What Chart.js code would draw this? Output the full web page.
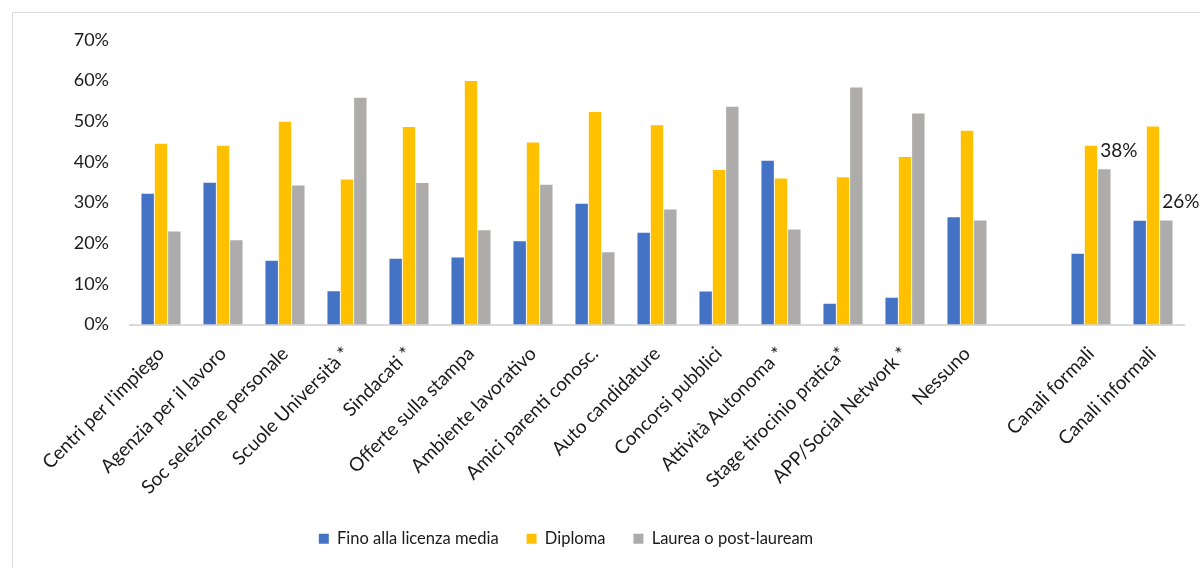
<!DOCTYPE html>
<html>
<head>
<meta charset="utf-8">
<script src="https://cdn.jsdelivr.net/npm/chart.js@4"></script>
<style>
  html, body { margin: 0; padding: 0; background: #fff; }
  #wrap { position: relative; width: 1200px; height: 568px; overflow: hidden; }
  #frame { position: absolute; left: 12px; top: 12px; width: 1200px; height: 568px;
           border-left: 1px solid #d9d9d9; border-top: 1px solid #d9d9d9; pointer-events: none; }
</style>
</head>
<body>
<div id="wrap">
  <canvas id="myChart" width="1200" height="568"></canvas>
  <div id="frame"></div>
</div>
<script>
const categories = [
  'Centri per l\'impiego', 'Agenzia per il lavoro', 'Soc selezione personale',
  'Scuole Università *', 'Sindacati *', 'Offerte sulla stampa', 'Ambiente lavorativo',
  'Amici parenti conosc.', 'Auto candidature', 'Concorsi pubblici', 'Attività Autonoma *',
  'Stage tirocinio pratica*', 'APP/Social Network *', 'Nessuno', '',
  'Canali formali', 'Canali informali'
];
const licenzaMedia = [32.2, 34.9, 15.7, 8.2, 16.2, 16.5, 20.5, 29.7, 22.6, 8.1, 40.3, 5.1, 6.6, 26.4, null, 17.4, 25.5];
const diploma      = [44.5, 44.0, 49.9, 35.7, 48.6, 59.9, 44.8, 52.3, 49.0, 38.0, 35.9, 36.2, 41.2, 47.7, null, 44.0, 48.7];
const laurea       = [22.9, 20.7, 34.2, 55.8, 34.8, 23.2, 34.4, 17.8, 28.3, 53.6, 23.4, 58.3, 51.9, 25.6, null, 38.2, 25.6];
const labelledLaurea = [15, 16];
const yTicks = [0, 10, 20, 30, 40, 50, 60, 70];

const font = 'Lato';

// value labels on the last two grey bars
const valueLabels = {
  id: 'valueLabels',
  afterDatasetsDraw(chart) {
    const meta = chart.getDatasetMeta(2);
    const ctx = chart.ctx;
    ctx.save();
    ctx.font = '19px ' + font;
    ctx.fillStyle = '#1a1a1a';
    ctx.textAlign = 'left';
    ctx.textBaseline = 'alphabetic';
    labelledLaurea.forEach(i => {
      const bar = meta.data[i];
      ctx.fillText(Math.round(laurea[i]) + '%', bar.x - 4, bar.y - 12);
    });
    ctx.restore();
  }
};

// legend sits a little left of the canvas centre
const legendShift = {
  id: 'legendShift',
  afterLayout(chart) {
    chart.legend.right -= 52;
  }
};

const ctx = document.getElementById('myChart').getContext('2d');
new Chart(ctx, {
  type: 'bar',
  data: {
    labels: categories,
    datasets: [
      { label: 'Fino alla licenza media', data: licenzaMedia, backgroundColor: '#4472C4' },
      { label: 'Diploma', data: diploma, backgroundColor: '#FFC000' },
      { label: 'Laurea o post-lauream', data: laurea, backgroundColor: '#AEABAB' }
    ]
  },
  options: {
    responsive: false,
    animation: false,
    categoryPercentage: 0.645,
    barPercentage: 0.93,
    layout: { padding: { left: 0, top: 40, right: 16, bottom: 11 } },
    plugins: {
      tooltip: { enabled: false },
      legend: {
        position: 'bottom',
        labels: {
          boxWidth: 10,
          boxHeight: 10,
          padding: 28,
          color: '#1a1a1a',
          font: { family: font, size: 16.5 }
        }
      }
    },
    scales: {
      x: {
        grid: { display: false, drawTicks: false },
        border: { display: true, color: '#d9d9d9', width: 2 },
        ticks: {
          color: '#1a1a1a',
          font: { family: font, size: 19 },
          maxRotation: 45,
          minRotation: 45,
          autoSkip: false,
          padding: 18
        },
        afterFit(scale) { scale.height = 178; }
      },
      y: {
        min: 0,
        max: 70,
        afterBuildTicks(scale) { scale.ticks = yTicks.map(v => ({ value: v })); },
        grid: { display: false, drawTicks: false },
        border: { display: false },
        ticks: {
          color: '#1a1a1a',
          font: { family: font, size: 18 },
          padding: 21,
          callback: v => v + '%'
        },
        afterFit(scale) { scale.width = 130; }
      }
    }
  },
  plugins: [valueLabels, legendShift]
});
</script>
</body>
</html>
